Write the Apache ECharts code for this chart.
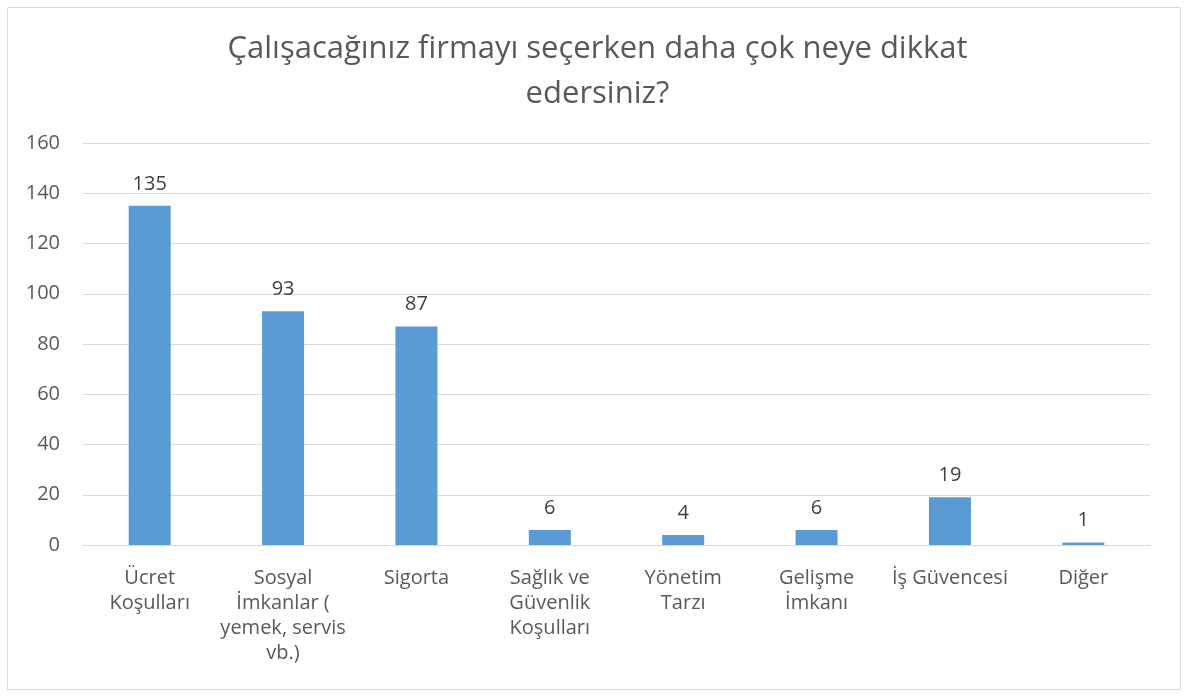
<!DOCTYPE html>
<html><head><meta charset="utf-8">
<script src="https://cdn.jsdelivr.net/npm/echarts@6/dist/echarts.min.js"></script>
<style>html,body{margin:0;padding:0;background:#fff}#c{width:1195px;height:697px}</style>
</head><body><div id="c"></div>
<script>
const titleText = 'Çalışacağınız firmayı seçerken daha çok neye dikkat\nedersiniz?';
const categories = ['Ücret\nKoşulları', 'Sosyal\nİmkanlar (\nyemek, servis\nvb.)', 'Sigorta', 'Sağlık ve\nGüvenlik\nKoşulları', 'Yönetim\nTarzı', 'Gelişme\nİmkanı', 'İş Güvencesi', 'Diğer'];
const values = [135, 93, 87, 6, 4, 6, 19, 1];
const yMin = 0, yMax = 160, yStep = 20;

const FONT = '"Open Sans", sans-serif';
const chart = echarts.init(document.getElementById('c'), null, {renderer: 'canvas'});
chart.setOption({
  animation: false,
  textStyle: {fontFamily: FONT},
  graphic: [{type: 'rect', shape: {x: 7.5, y: 7.5, width: 1173, height: 682}, style: {fill: 'none', stroke: '#d9d9d9', lineWidth: 1}, z: -1}],
  title: {text: titleText, left: 'center', top: 22, textStyle: {fontFamily: FONT, fontSize: 31, fontWeight: 'normal', color: '#595959', lineHeight: 45}},
  grid: {left: 83, right: 45, top: 143, bottom: 152},
  xAxis: {type: 'category', data: categories,
    axisLine: {lineStyle: {color: '#d9d9d9'}}, axisTick: {show: false},
    axisLabel: {interval: 0, margin: 21, color: '#595959', fontSize: 20, lineHeight: 25, fontFamily: FONT}},
  yAxis: {type: 'value', min: yMin, max: yMax, interval: yStep,
    axisLine: {show: false}, axisTick: {show: false},
    splitLine: {lineStyle: {color: '#d9d9d9'}},
    axisLabel: {margin: 23, color: '#595959', fontSize: 20, fontFamily: FONT}},
  series: [{type: 'bar', data: values, barWidth: 42, itemStyle: {color: '#5b9bd5'},
    label: {show: true, position: 'top', distance: 12, color: '#404040', fontSize: 20, fontFamily: FONT}}]
});
</script></body></html>
